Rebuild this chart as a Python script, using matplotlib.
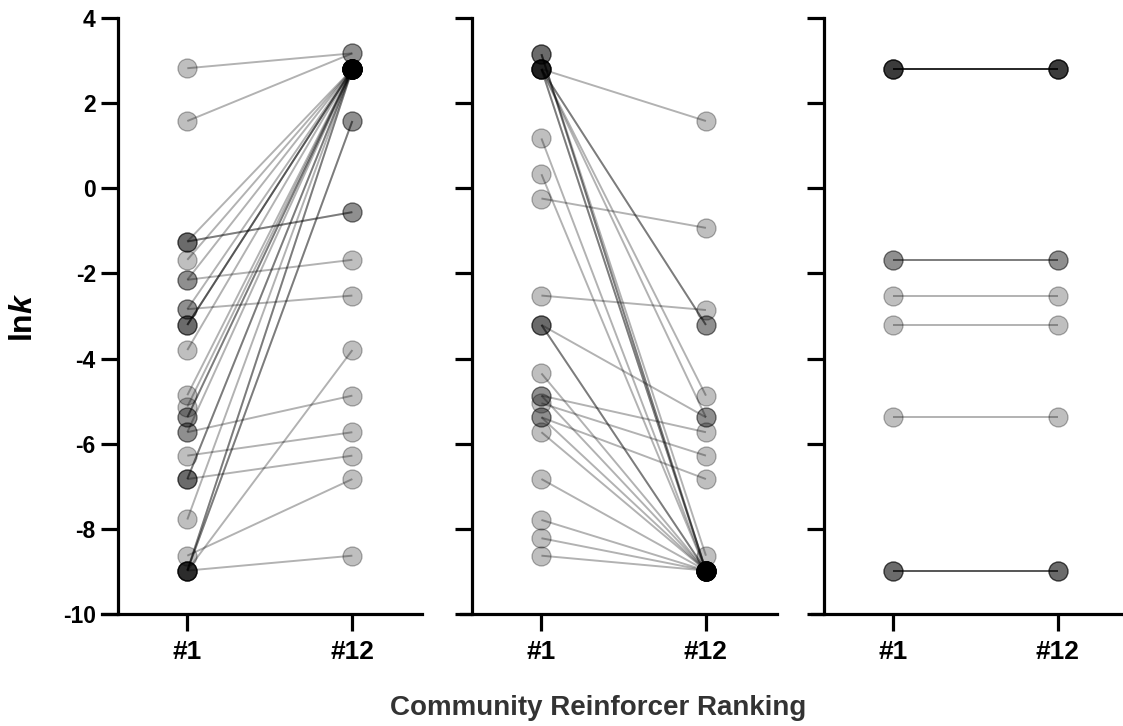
import matplotlib
matplotlib.use('Agg')
import matplotlib.pyplot as plt

plt.rcParams['font.family'] = ['Liberation Sans', 'DejaVu Sans']
plt.rcParams['font.weight'] = 'bold'
plt.rcParams['axes.unicode_minus'] = False
plt.rcParams['mathtext.fontset'] = 'custom'
plt.rcParams['mathtext.it'] = 'Liberation Sans:italic:bold'
plt.rcParams['mathtext.rm'] = 'Liberation Sans:bold'

# lnk per subject: ranked #1 reinforcer vs ranked #12 reinforcer
ranks = ['#1', '#12']

g1_first = [2.82, 1.58, -1.25, -1.25, -1.25, -1.68, -2.15, -2.15, -2.84, -2.84,
            -3.21, -3.21, -3.21, -3.80, -4.86, -5.13, -5.38, -5.38, -5.73, -5.73,
            -6.28, -6.83, -6.83, -6.83, -7.78, -8.63, -8.98, -8.98, -8.98, -8.98,
            -8.98, -8.98]
g1_last = [3.17, 3.17, -0.56, -0.56, 2.80, 2.80, -1.68, 2.80, -2.52, 2.80,
           2.80, 2.80, 2.80, 2.80, 2.80, 2.80, 2.80, 2.80, -4.87, 2.80,
           -5.73, -6.28, 2.80, 2.80, 2.80, -6.83, -8.63, -3.80, 2.80, 2.80,
           1.58, 1.58]

g2_first = [3.15, 3.15, 3.15, 2.80, 2.80, 2.80, 2.80, 2.80, 2.80, 2.80,
            1.17, 0.33, -0.24, -2.52, -3.21, -3.21, -3.21, -4.35, -4.87, -4.87,
            -5.05, -5.38, -5.38, -5.73, -6.83, -7.79, -8.22, -8.63]
g2_last = [-8.98, -8.98, -8.63, 1.58, -3.21, -3.21, -4.87, -5.38, -8.98, -8.98,
           -8.98, -8.98, -0.93, -2.86, -5.38, -8.98, -8.98, -8.98, -5.73, -8.98,
           -6.28, -6.83, -8.98, -8.98, -8.98, -8.98, -8.98, -8.98]

g3_first = [2.80, 2.80, 2.80, 2.80, 2.80, -1.68, -1.68, -2.52, -3.21, -5.38,
            -8.98, -8.98, -8.98]
g3_last = [2.80, 2.80, 2.80, 2.80, 2.80, -1.68, -1.68, -2.52, -3.21, -5.38,
           -8.98, -8.98, -8.98]

groups = [(g1_first, g1_last), (g2_first, g2_last), (g3_first, g3_last)]

# axes boxes in figure fraction, x-limits and where the y spine sits
W, H = 1123, 726
boxes = [(102, 422, (-0.517, 1.422), -0.42),
         (461, 777, (-0.489, 1.432), -0.423),
         (812, 1123, (-0.495, 1.397), -0.422)]
ybot, ytop = 614, 18

fig = plt.figure(figsize=(W / 100, H / 100), dpi=100)

for i, ((first, last), (x0, x1, xlim, yax)) in enumerate(zip(groups, boxes)):
    ax = fig.add_axes([x0 / W, 1 - ybot / H, (x1 - x0) / W, (ybot - ytop) / H])
    for a, b in zip(first, last):
        ax.plot([0, 1], [a, b], color='black', alpha=0.3, lw=1.4,
                solid_capstyle='butt', zorder=2)
    xs = [0] * len(first) + [1] * len(last)
    ax.scatter(xs, list(first) + list(last), s=19 ** 2 * 0.52,
               facecolor=(0, 0, 0, 0.25), edgecolor=(0, 0, 0, 0.3),
               linewidths=0.9, zorder=3, clip_on=False)
    ax.set_xlim(*xlim)
    ax.set_ylim(-10, 4)
    ax.set_yticks(range(-10, 5, 2))
    ax.set_xticks([0, 1])
    ax.set_xticklabels(ranks, fontsize=19, fontweight='bold')
    for s in ('top', 'right'):
        ax.spines[s].set_visible(False)
    ax.spines['left'].set_position(('data', yax))
    for s in ('left', 'bottom'):
        ax.spines[s].set_linewidth(2.3)
    ax.tick_params(axis='both', length=12, width=2.3, direction='out')
    ax.tick_params(axis='x', pad=7)
    ax.tick_params(axis='y', pad=4, labelsize=16.5)
    if i == 0:
        ax.set_yticklabels([str(v) for v in range(-10, 5, 2)], fontweight='bold')
    else:
        ax.set_yticklabels([])
    ax.patch.set_visible(False)

fig.text(24 / W, 1 - 317 / H, r'ln$k$', rotation=90, fontsize=23,
         fontweight='bold', ha='center', va='center')
fig.text(598 / W, 1 - 708 / H, 'Community Reinforcer Ranking', fontsize=20,
         fontweight='bold', color='#333333', ha='center', va='center')

fig.savefig('out.png', dpi=100)
